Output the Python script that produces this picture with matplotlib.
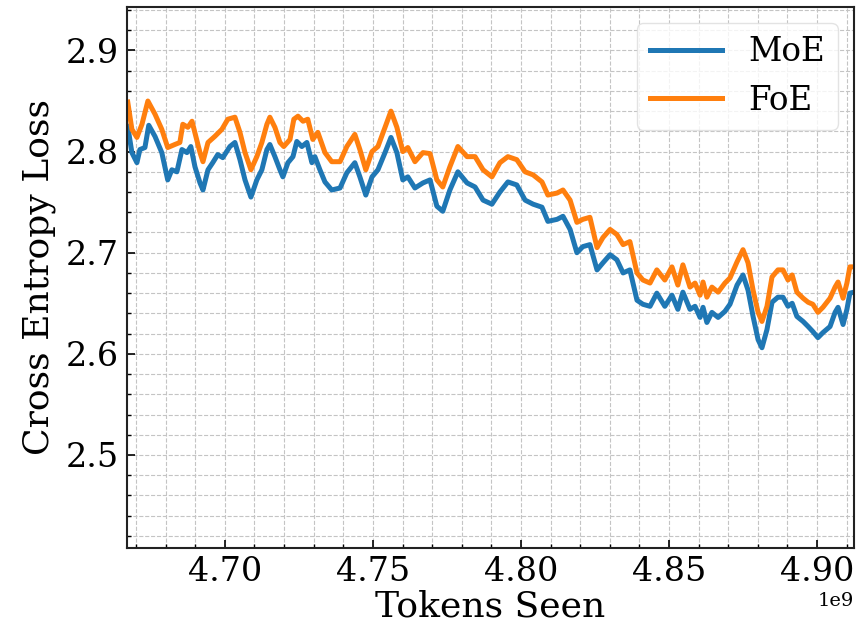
import matplotlib
matplotlib.use("Agg")
import matplotlib.pyplot as plt
from matplotlib.ticker import MultipleLocator

# tokens seen (in units of 1e9) and loss values
tokens_moe = [4.6672, 4.6686, 4.6703, 4.6713, 4.6730, 4.6743, 4.6764, 4.6787, 4.6807, 4.6821,
              4.6838, 4.6855, 4.6872, 4.6885, 4.6899, 4.6916, 4.6926, 4.6943, 4.6959, 4.6976,
              4.6993, 4.7017, 4.7034, 4.7051, 4.7068, 4.7088, 4.7108, 4.7125, 4.7142, 4.7152,
              4.7169, 4.7186, 4.7196, 4.7213, 4.7230, 4.7243, 4.7260, 4.7277, 4.7294, 4.7304,
              4.7321, 4.7338, 4.7361, 4.7389, 4.7412, 4.7439, 4.7456, 4.7476, 4.7497, 4.7517,
              4.7541, 4.7561, 4.7581, 4.7601, 4.7618, 4.7642, 4.7669, 4.7693, 4.7716, 4.7736,
              4.7760, 4.7787, 4.7818, 4.7845, 4.7872, 4.7902, 4.7929, 4.7956, 4.7986, 4.8014,
              4.8041, 4.8071, 4.8091, 4.8122, 4.8142, 4.8166, 4.8189, 4.8209, 4.8233, 4.8257,
              4.8277, 4.8301, 4.8324, 4.8345, 4.8368, 4.8392, 4.8412, 4.8436, 4.8459, 4.8486,
              4.8510, 4.8530, 4.8547, 4.8571, 4.8588, 4.8605, 4.8615, 4.8628, 4.8645, 4.8666,
              4.8689, 4.8706, 4.8730, 4.8750, 4.8767, 4.8784, 4.8801, 4.8814, 4.8831, 4.8848,
              4.8868, 4.8885, 4.8902, 4.8916, 4.8932, 4.8953, 4.8970, 4.8986, 4.9003, 4.9020,
              4.9044, 4.9061, 4.9071, 4.9088, 4.9101, 4.9111, 4.9125]
loss_moe = [2.825, 2.799, 2.789, 2.802, 2.804, 2.826, 2.815, 2.799, 2.772, 2.782,
            2.780, 2.802, 2.799, 2.805, 2.785, 2.769, 2.762, 2.782, 2.789, 2.797,
            2.794, 2.805, 2.809, 2.792, 2.772, 2.755, 2.772, 2.782, 2.802, 2.807,
            2.795, 2.782, 2.775, 2.789, 2.795, 2.810, 2.805, 2.809, 2.789, 2.795,
            2.782, 2.770, 2.762, 2.764, 2.779, 2.789, 2.775, 2.757, 2.775, 2.782,
            2.799, 2.814, 2.799, 2.772, 2.775, 2.764, 2.769, 2.772, 2.746, 2.741,
            2.762, 2.780, 2.769, 2.765, 2.752, 2.748, 2.760, 2.770, 2.767, 2.752,
            2.748, 2.745, 2.731, 2.733, 2.736, 2.723, 2.700, 2.706, 2.708, 2.683,
            2.690, 2.698, 2.693, 2.680, 2.683, 2.653, 2.649, 2.647, 2.660, 2.647,
            2.658, 2.644, 2.661, 2.644, 2.647, 2.636, 2.646, 2.631, 2.641, 2.636,
            2.642, 2.649, 2.668, 2.678, 2.663, 2.637, 2.614, 2.606, 2.624, 2.651,
            2.656, 2.656, 2.647, 2.650, 2.637, 2.632, 2.627, 2.622, 2.616, 2.621,
            2.627, 2.641, 2.646, 2.629, 2.644, 2.660, 2.661]

tokens_foe = [4.6672, 4.6686, 4.6703, 4.6720, 4.6740, 4.6764, 4.6787, 4.6807, 4.6831, 4.6848,
              4.6858, 4.6875, 4.6889, 4.6902, 4.6916, 4.6926, 4.6943, 4.6966, 4.6990, 4.7010,
              4.7034, 4.7051, 4.7068, 4.7088, 4.7108, 4.7125, 4.7142, 4.7152, 4.7169, 4.7186,
              4.7199, 4.7220, 4.7233, 4.7247, 4.7264, 4.7280, 4.7297, 4.7314, 4.7338, 4.7361,
              4.7389, 4.7412, 4.7439, 4.7456, 4.7476, 4.7497, 4.7517, 4.7541, 4.7561, 4.7581,
              4.7601, 4.7618, 4.7642, 4.7669, 4.7693, 4.7716, 4.7736, 4.7760, 4.7787, 4.7818,
              4.7845, 4.7872, 4.7902, 4.7929, 4.7956, 4.7986, 4.8014, 4.8041, 4.8071, 4.8091,
              4.8122, 4.8142, 4.8166, 4.8189, 4.8209, 4.8233, 4.8257, 4.8277, 4.8301, 4.8324,
              4.8345, 4.8368, 4.8392, 4.8412, 4.8436, 4.8459, 4.8486, 4.8510, 4.8530, 4.8547,
              4.8571, 4.8588, 4.8605, 4.8615, 4.8628, 4.8645, 4.8666, 4.8689, 4.8706, 4.8730,
              4.8750, 4.8767, 4.8784, 4.8801, 4.8814, 4.8831, 4.8848, 4.8868, 4.8885, 4.8902,
              4.8916, 4.8932, 4.8953, 4.8970, 4.8986, 4.9003, 4.9020, 4.9044, 4.9061, 4.9071,
              4.9088, 4.9101, 4.9111, 4.9125]
loss_foe = [2.849, 2.822, 2.814, 2.827, 2.850, 2.837, 2.822, 2.804, 2.807, 2.809,
            2.827, 2.824, 2.830, 2.815, 2.799, 2.790, 2.809, 2.815, 2.822, 2.832,
            2.834, 2.819, 2.799, 2.782, 2.795, 2.809, 2.827, 2.834, 2.824, 2.809,
            2.805, 2.812, 2.832, 2.835, 2.830, 2.832, 2.812, 2.819, 2.799, 2.790,
            2.790, 2.805, 2.817, 2.802, 2.782, 2.800, 2.805, 2.824, 2.840, 2.824,
            2.800, 2.804, 2.790, 2.799, 2.798, 2.772, 2.765, 2.785, 2.805, 2.795,
            2.795, 2.782, 2.775, 2.789, 2.795, 2.792, 2.780, 2.777, 2.770, 2.757,
            2.759, 2.762, 2.752, 2.730, 2.733, 2.735, 2.705, 2.715, 2.723, 2.718,
            2.708, 2.711, 2.680, 2.673, 2.670, 2.683, 2.673, 2.686, 2.668, 2.688,
            2.666, 2.670, 2.658, 2.671, 2.656, 2.666, 2.661, 2.670, 2.675, 2.691,
            2.703, 2.690, 2.663, 2.641, 2.632, 2.647, 2.676, 2.683, 2.683, 2.673,
            2.678, 2.661, 2.655, 2.651, 2.649, 2.641, 2.646, 2.655, 2.666, 2.671,
            2.655, 2.670, 2.686, 2.686]

plt.rcParams['font.family'] = 'DejaVu Serif'

fig = plt.figure(figsize=(8.63, 6.28), dpi=100)
ax = fig.add_axes([0.147, 0.1274, 0.8426, 0.8615])

ax.plot([t * 1e9 for t in tokens_moe], loss_moe, color='#1f77b4', lw=3.6, label='MoE')
ax.plot([t * 1e9 for t in tokens_foe], loss_foe, color='#ff7f0e', lw=3.6, label='FoE')

ax.set_xlim(4.6669e9, 4.9125e9)
ax.set_ylim(2.408, 2.943)

ax.xaxis.set_major_locator(MultipleLocator(0.05e9))
ax.xaxis.set_minor_locator(MultipleLocator(0.01e9))
ax.yaxis.set_major_locator(MultipleLocator(0.1))
ax.yaxis.set_minor_locator(MultipleLocator(0.02))

ax.tick_params(which='both', direction='in', labelsize=24)
ax.tick_params(which='major', length=6, width=1.2, pad=6)
ax.tick_params(which='minor', length=3, width=1.0)
ax.xaxis.get_offset_text().set_fontsize(14)

ax.grid(True, which='both', linestyle='--', color='#c4c4c4', linewidth=0.8)
for s in ax.spines.values():
    s.set_linewidth(1.5)
    s.set_color('#222222')

ax.set_xlabel('Tokens Seen', fontsize=26, labelpad=1)
ax.set_ylabel('Cross Entropy Loss', fontsize=26, labelpad=7)

leg = ax.legend(loc='upper right', fontsize=23.5, handlelength=2.2, fancybox=True,
                framealpha=0.8, edgecolor='#dddddd')

fig.savefig('out.png', dpi=100)
